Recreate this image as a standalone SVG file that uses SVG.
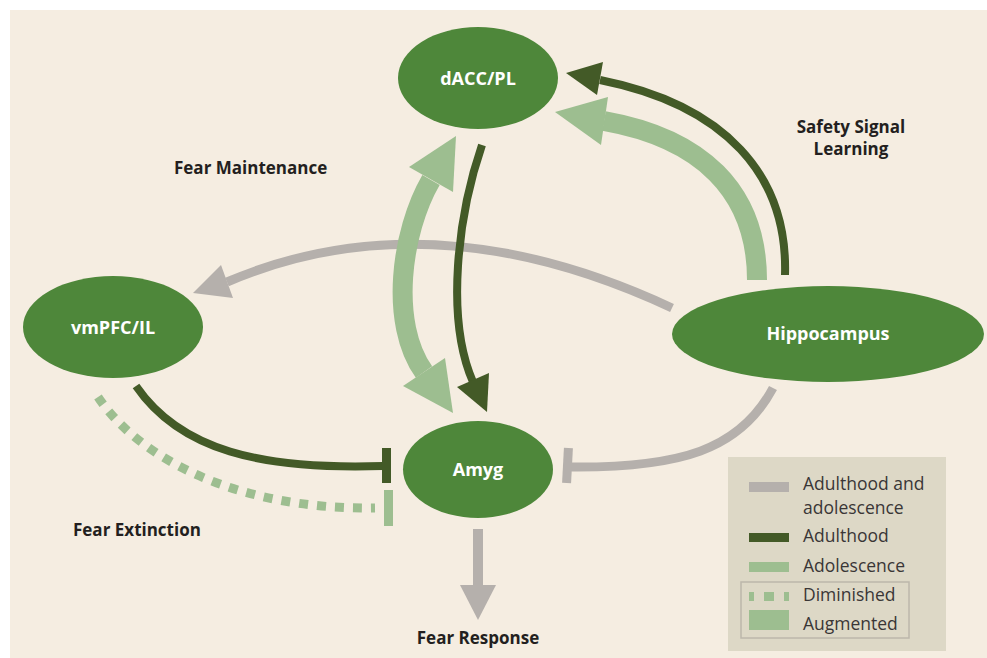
<svg xmlns="http://www.w3.org/2000/svg" width="987" height="658" viewBox="0 0 987 658">
<style>
.node{fill:#4e873a}
.nl{font-family:"Open Sans","Liberation Sans",sans-serif;font-weight:bold;font-size:18px;fill:#ffffff;text-anchor:middle}
.lbl{font-family:"Open Sans","Liberation Sans",sans-serif;font-weight:bold;font-size:17px;fill:#231f20}
.leg{font-family:"Open Sans","Liberation Sans",sans-serif;font-size:17.5px;fill:#3a3636}
.gray{fill:none;stroke:#b5b0ac;stroke-width:9}
.dark{fill:none;stroke:#435a27;stroke-width:8}
.light{fill:none;stroke:#9dbe90;stroke-width:20}
.dot{fill:none;stroke:#9dbe90;stroke-width:9;stroke-dasharray:9 9}
.gf{fill:#b5b0ac}
.df{fill:#435a27}
.lf{fill:#9dbe90}
</style>
<rect x="0" y="0" width="987" height="658" fill="#ffffff"/>
<rect x="10" y="10" width="977" height="648" fill="#f5ede1"/>

<g id="connectors">
  <path class="gray" d="M 672,308 Q 430,195 227,282"/>
  <polygon class="gf" points="193,293 221,265 233,298"/>
  <path class="light" d="M 431,180 C 401,232 389,323 424,372"/>
  <polygon class="lf" points="456,136 409,167 453,192"/>
  <polygon class="lf" points="453,413 403,386 445,358"/>
  <path class="dark" d="M 482,145 C 458,215 445,318 473,382"/>
  <polygon class="df" points="487,412 457,387 489,373"/>
  <path class="dark" d="M 785,275 C 788,175 725,105 600,80"/>
  <polygon class="df" points="566,73 603,62 597,95"/>
  <path class="light" d="M 757,280 C 757,190 700,138 604,121"/>
  <polygon class="lf" points="555,112 608,97 601,145"/>
  <path class="dark" d="M 136,386 C 180,450 260,470 383,466"/>
  <rect class="df" x="382" y="448" width="9" height="35"/>
  <path class="dot" d="M 98,397 C 140,460 240,510 375,508"/>
  <rect class="lf" x="384" y="490" width="9" height="36"/>
  <path class="gray" d="M 773,388 C 740,450 680,468 570,467"/>
  <rect class="gf" x="563" y="448" width="9" height="35" transform="rotate(3 567.5 465.5)"/>
  <rect class="gf" x="473" y="529" width="10" height="58"/>
  <polygon class="gf" points="460,585 496,585 478,620"/>
</g>

<g id="dacc">
  <ellipse class="node" cx="478" cy="78" rx="80" ry="51"/>
  <text class="nl" x="478" y="85">dACC/PL</text>
</g>
<g id="vmpfc">
  <ellipse class="node" cx="113" cy="327" rx="90" ry="51"/>
  <text class="nl" x="113" y="334">vmPFC/IL</text>
</g>
<g id="hippocampus">
  <ellipse class="node" cx="828" cy="334" rx="156" ry="48"/>
  <text class="nl" x="828" y="340">Hippocampus</text>
</g>
<g id="amyg">
  <ellipse class="node" cx="478" cy="469.5" rx="75" ry="48.5"/>
  <text class="nl" x="478" y="476">Amyg</text>
</g>

<g id="labels">
  <text class="lbl" x="174" y="174">Fear Maintenance</text>
  <text class="lbl" text-anchor="middle"><tspan x="851" y="133">Safety Signal</tspan><tspan x="851" y="155">Learning</tspan></text>
  <text class="lbl" x="73" y="536">Fear Extinction</text>
  <text class="lbl" x="478" y="644" text-anchor="middle">Fear Response</text>
</g>

<g id="legend">
  <rect x="728" y="457" width="218" height="194" fill="#ddd8c6"/>
  <rect x="741" y="582" width="168" height="56" fill="none" stroke="#bcb7ab" stroke-width="1.5"/>
  <rect class="gf" x="749" y="482" width="40" height="10"/>
  <text class="leg" x="803" y="490">Adulthood and</text>
  <text class="leg" x="803" y="514">adolescence</text>
  <rect class="df" x="749" y="533" width="40" height="9"/>
  <text class="leg" x="803" y="542">Adulthood</text>
  <rect class="lf" x="749" y="562" width="40" height="10"/>
  <text class="leg" x="803" y="572">Adolescence</text>
  <rect class="lf" x="749" y="592" width="5" height="9"/>
  <rect class="lf" x="764" y="592" width="10" height="9"/>
  <rect class="lf" x="784" y="592" width="5" height="9"/>
  <text class="leg" x="803" y="601">Diminished</text>
  <rect class="lf" x="749" y="610" width="40" height="20"/>
  <text class="leg" x="803" y="630">Augmented</text>
</g>
</svg>
